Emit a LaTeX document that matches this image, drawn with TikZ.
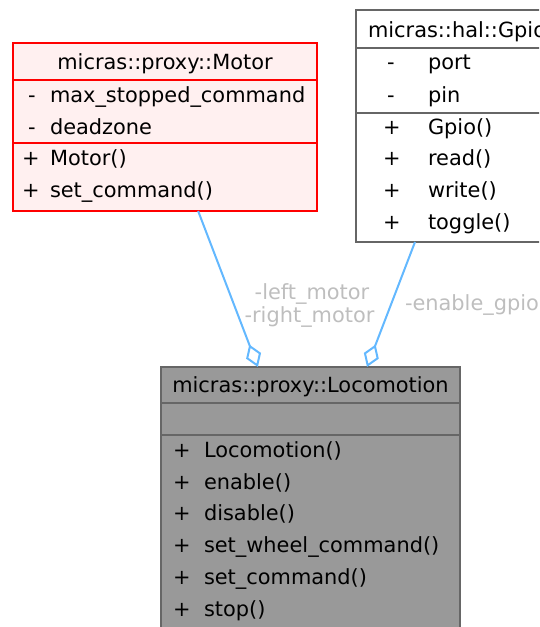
\documentclass[tikz,border=0pt]{standalone}
\usepackage{fontspec}
\setmainfont{DejaVu Sans}
\usetikzlibrary{arrows.meta,calc}
\definecolor{motorfill}{HTML}{FFF0F0}
\definecolor{motordraw}{HTML}{FF0000}
\definecolor{boxdraw}{HTML}{666666}
\definecolor{locofill}{HTML}{999999}
\definecolor{edgeblue}{HTML}{63B8FF}
\definecolor{labelgrey}{HTML}{BEBEBE}
\begin{document}
\begin{tikzpicture}[x=1pt,y=-1pt,
  every node/.style={inner sep=0pt, outer sep=0pt, font=\fontsize{20.9}{24}\selectfont},
  classbox/.style={draw, line width=2pt, minimum width=#1, anchor=north west},
  rowtext/.style={anchor=base west},
  sym/.style={anchor=base},
  sep/.style={line width=2pt},
  agg/.style={draw=edgeblue, line width=2pt, -{Diamond[open, length=24pt, width=16pt, line width=2pt]}},
  edgelabel/.style={text=labelgrey}]
\useasboundingbox (0,0) rectangle (539,627);
\clip (0,0) rectangle (539,627);

% micras::proxy::Motor
\node[classbox=304pt, minimum height=168pt, fill=motorfill, draw=motordraw] (motor) at (13,43) {};
\draw[sep, motordraw] (13,80) -- (317,80);
\draw[sep, motordraw] (13,143) -- (317,143);
\node[anchor=base] (motortitle) at (165,69.5) {micras::proxy::Motor};
\node[sym] (ma1s) at (32,102.5) {-};
\node[rowtext] (ma1) at (50,102.5) {max\_stopped\_command};
\node[sym] (ma2s) at (32,134.5) {-};
\node[rowtext] (ma2) at (50,134.5) {deadzone};
\node[sym] (mm1s) at (31,165.5) {+};
\node[rowtext] (mm1) at (50,165.5) {Motor()};
\node[sym] (mm2s) at (31,197.5) {+};
\node[rowtext] (mm2) at (50,197.5) {set\_command()};

% micras::hal::Gpio
\node[classbox=200pt, minimum height=232pt, fill=white, draw=boxdraw] (gpio) at (356,10) {};
\draw[sep, boxdraw] (356,48) -- (556,48);
\draw[sep, boxdraw] (356,113) -- (556,113);
\node[rowtext] (gpiotitle) at (368,37) {micras::hal::Gpio};
\node[sym] (ga1s) at (391,69.5) {-};
\node[rowtext] (ga1) at (428,69.5) {port};
\node[sym] (ga2s) at (391,102.5) {-};
\node[rowtext] (ga2) at (428,102.5) {pin};
\node[sym] (gm1s) at (392,134.5) {+};
\node[rowtext] (gm1) at (428,134.5) {Gpio()};
\node[sym] (gm2s) at (392,165.5) {+};
\node[rowtext] (gm2) at (428,165.5) {read()};
\node[sym] (gm3s) at (392,197.5) {+};
\node[rowtext] (gm3) at (428,197.5) {write()};
\node[sym] (gm4s) at (392,229.5) {+};
\node[rowtext] (gm4) at (428,229.5) {toggle()};

% micras::proxy::Locomotion
\node[classbox=299pt, minimum height=276pt, fill=locofill, draw=boxdraw] (loco) at (161,367) {};
\draw[sep, boxdraw] (161,403) -- (460,403);
\draw[sep, boxdraw] (161,435) -- (460,435);
\node[anchor=base] (locotitle) at (310.5,392.5) {micras::proxy::Locomotion};
\node[sym] (lm1s) at (182,457) {+};
\node[rowtext] (lm1) at (204,457) {Locomotion()};
\node[sym] (lm2s) at (182,489) {+};
\node[rowtext] (lm2) at (204,489) {enable()};
\node[sym] (lm3s) at (182,520.5) {+};
\node[rowtext] (lm3) at (204,520.5) {disable()};
\node[sym] (lm4s) at (182,552.5) {+};
\node[rowtext] (lm4) at (204,552.5) {set\_wheel\_command()};
\node[sym] (lm5s) at (182,584.5) {+};
\node[rowtext] (lm5) at (204,584.5) {set\_command()};
\node[sym] (lm6s) at (182,616) {+};
\node[rowtext] (lm6) at (204,616) {stop()};

% aggregation connectors
\coordinate (motorout) at ($(motor.south west)!0.609!(motor.south east)$);
\coordinate (locoinL) at ($(loco.north west)!0.324!(loco.north east)$);
\coordinate (gpioout) at ($(gpio.south west)!0.295!(gpio.south east)$);
\coordinate (locoinR) at ($(loco.north west)!0.689!(loco.north east)$);
\draw[agg] (motorout) -- (locoinL);
\draw[agg] (gpioout) -- (locoinR);

% connector labels
\node[edgelabel, anchor=base] (lblleft) at (312,299) {-left\_motor};
\node[edgelabel, anchor=base] (lblright) at (309.5,322) {-right\_motor};
\node[edgelabel, anchor=base west] (lblgpio) at (405,310) {-enable\_gpio};
\end{tikzpicture}
\end{document}
